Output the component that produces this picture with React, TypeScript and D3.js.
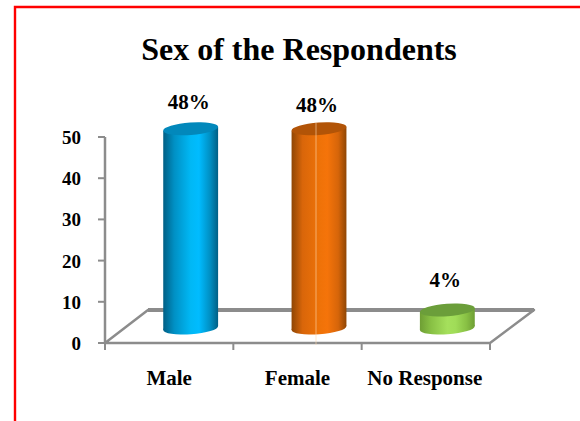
import React from "react";
import * as d3 from "d3";

const title = "Sex of the Respondents";
const categories = ["Male", "Female", "No Response"];
const values = [48, 48, 4];
const valueLabels = ["48%", "48%", "4%"];
const labelLift = [20, 17, 23];
const yTicks = [0, 10, 20, 30, 40, 50];
const shades = [
  { id: "blue", top: "#0288bb", stops: ["#005f85", "#0090c4", "#00b8f5", "#00bcff", "#0090c4", "#005f85"] },
  { id: "orange", top: "#b25407", stops: ["#8f4604", "#d9660a", "#ee7208", "#f5740a", "#d6650a", "#8f4604"] },
  { id: "green", top: "#6b9e3a", stops: ["#6e9e34", "#88c044", "#a5e05c", "#a0dc58", "#88c044", "#6e9e34"] },
];
const stopOffsets = [0, 0.2, 0.5, 0.65, 0.85, 1];

const W = 580, H = 421;
const x = d3.scaleBand<string>().domain(categories).range([105, 490]);
const y = d3.scaleLinear().domain([0, 50]).range([343, 137]);
const depthX = 43, depthY = 33;
const gray = "#8c8c8c";
const serif = "'Liberation Serif', serif";
const rx = 27.5, ry = 6.3, tilt = -4;

function Cylinder({ i }: { i: number }) {
  const cat = categories[i];
  const cx = x(cat)! + x.bandwidth() / 2 + depthX / 2;
  const baseY = y(0) - depthY / 2 + 1.5;
  const topY = y(values[i]) - depthY / 2;
  const rad = (tilt * Math.PI) / 180;
  const ex = rx * Math.cos(rad);
  const dy = rx * Math.sin(rad);
  const s = shades[i];
  const side = `M${cx - ex},${topY - dy} L${cx - ex},${baseY - dy} L${cx + ex},${baseY + dy} L${cx + ex},${topY + dy} Z`;
  return (
    <g>
      <ellipse cx={cx} cy={baseY} rx={rx} ry={ry} fill={`url(#${s.id})`} transform={`rotate(${tilt} ${cx} ${baseY})`} />
      <path d={side} fill={`url(#${s.id})`} />
      <ellipse cx={cx} cy={topY} rx={rx} ry={ry} fill={s.top} transform={`rotate(${tilt} ${cx} ${topY})`} />
      {i === 1 && (
        <line x1={cx - 3} x2={cx - 3} y1={topY - 6} y2={y(0) + 2} stroke="#ffd9b0" strokeWidth={0.8} opacity={0.75} />
      )}
    </g>
  );
}

export default function App() {
  const front = x.range();
  const ticksX = [...categories.map((c) => x(c)!), front[1]];
  const floorY = y(0);
  const floor = `M${front[0]},${floorY} L${front[0] + depthX},${floorY - depthY} L${front[1] + depthX + 1},${floorY - depthY} L${front[1]},${floorY} Z`;
  return (
    <svg width={W} height={H} style={{ position: "absolute", left: 0, top: 0 }}>
      <defs>
        {shades.map((s) => (
          <linearGradient key={s.id} id={s.id} x1="0" x2="1" y1="0" y2="0">
            {s.stops.map((c, k) => (
              <stop key={k} offset={stopOffsets[k]} stopColor={c} />
            ))}
          </linearGradient>
        ))}
      </defs>
      <rect width={W} height={H} fill="#fff" />
      <path d={`M15,${H} L15,7 L${W},7`} fill="none" stroke="#ff0000" strokeWidth={2.4} />
      <text x={299} y={60} textAnchor="middle" fontFamily={serif} fontWeight="bold" fontSize={32}>{title}</text>

      <path d={floor} fill="none" stroke={gray} strokeWidth={2.5} strokeLinejoin="round" />
      <line x1={front[0] + depthX} x2={front[1] + depthX + 1} y1={floorY - depthY} y2={floorY - depthY} stroke={gray} strokeWidth={4} />
      <line x1={front[0]} x2={front[0]} y1={y(50)} y2={floorY} stroke={gray} strokeWidth={2.5} />
      {yTicks.map((t) => (
        <g key={t}>
          <line x1={front[0] - 7} x2={front[0]} y1={y(t)} y2={y(t)} stroke={gray} strokeWidth={2} />
          <text x={81} y={y(t) + 7} textAnchor="end" fontFamily={serif} fontWeight="bold" fontSize={19}>{t}</text>
        </g>
      ))}
      {ticksX.map((t, k) => (
        <line key={k} x1={t} x2={t} y1={floorY} y2={floorY + 7} stroke={gray} strokeWidth={2} />
      ))}
      {categories.map((_, i) => <Cylinder key={i} i={i} />)}
      {categories.map((c, i) => (
        <text key={c} x={x(c)! + x.bandwidth() / 2 + (i === 2 ? -1 : 0)} y={385} textAnchor="middle" fontFamily={serif} fontWeight="bold" fontSize={21}>{c}</text>
      ))}
      {categories.map((c, i) => (
        <text key={c} x={x(c)! + x.bandwidth() / 2 + depthX / 2 - 2} y={y(values[i]) - depthY / 2 - labelLift[i]} textAnchor="middle" fontFamily={serif} fontWeight="bold" fontSize={21}>{valueLabels[i]}</text>
      ))}
    </svg>
  );
}
